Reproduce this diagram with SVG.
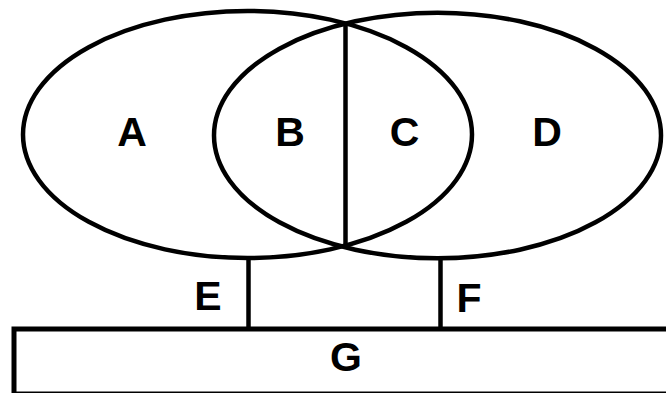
<svg xmlns="http://www.w3.org/2000/svg" width="666" height="393" viewBox="0 0 666 393">
<style>
.s{fill:none;stroke:#000;stroke-width:4.5}
.t{font-family:"Liberation Sans",Arial,sans-serif;font-weight:bold;font-size:41px;fill:#000;text-anchor:middle}
</style>
<rect width="666" height="393" fill="#fff"/>
<g id="set-left"><ellipse class="s" cx="247.5" cy="134.5" rx="224.5" ry="123.5"/></g>
<g id="set-right"><ellipse class="s" cx="437.5" cy="135.5" rx="223.5" ry="122.8"/></g>
<g id="base-G"><rect class="s" x="14" y="329" width="700" height="65" style="stroke-width:5"/></g>
<g id="connectors">
<line class="s" x1="345.5" y1="22" x2="345.5" y2="247"/>
<line class="s" x1="248.5" y1="257" x2="248.5" y2="329"/>
<line class="s" x1="440.5" y1="257" x2="440.5" y2="329"/>
</g>
<g id="label-A"><text class="t" x="132" y="146">A</text></g>
<g id="label-B"><text class="t" x="290" y="146">B</text></g>
<g id="label-C"><text class="t" x="404.5" y="146">C</text></g>
<g id="label-D"><text class="t" x="547" y="146">D</text></g>
<g id="label-E"><text class="t" x="208" y="310">E</text></g>
<g id="label-F"><text class="t" x="469" y="312">F</text></g>
<g id="label-G"><text class="t" x="346" y="371">G</text></g>
</svg>
